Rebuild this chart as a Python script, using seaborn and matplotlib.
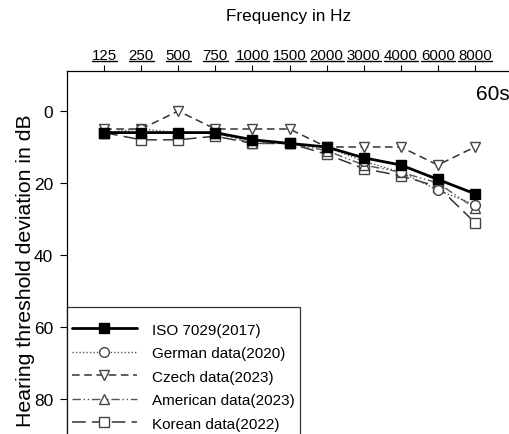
import numpy as np
import pandas as pd
import seaborn as sns
import matplotlib
matplotlib.use("Agg")
import matplotlib.pyplot as plt
from matplotlib.lines import Line2D

freqs = ["125", "250", "500", "750", "1000", "1500", "2000", "3000", "4000", "6000", "8000"]
iso_2017 = [6, 6, 6, 6, 8, 9, 10, 13, 15, 19, 23]
german_2020 = [6, 5, 6, 6, 8, 9, 10, 14, 17, 22, 26]
czech_2023 = [5, 5, 0, 5, 5, 5, 10, 10, 10, 15, 10]
american_2023 = [6, 6, 6, 6, 9, 9, 11, 15, 17, 20, 27]
korean_2022 = [6, 8, 8, 7, 9, 9, 12, 16, 18, 21, 31]
series_names = ["ISO 7029(2017)", "German data(2020)", "Czech data(2023)",
                "American data(2023)", "Korean data(2022)"]
y_ticks = [0, 20, 40, 60, 80]

sns.set_theme(style="ticks")
plt.rcParams["font.family"] = ["Liberation Sans", "DejaVu Sans"]
plt.rcParams["text.color"] = "black"

fig = plt.figure(figsize=(5.09, 4.35), dpi=100)
ax = fig.add_axes([67/509, -37/435, 445/509, 400/435])

styles = [
    dict(color="black", lw=2.0, marker="s", ms=7.5, mfc="black", mec="black", dashes=None),
    dict(color="#555555", lw=1.0, marker="o", ms=7, mfc="white", mec="#444444", dashes=(1, 1.5)),
    dict(color="#333333", lw=1.1, marker="v", ms=7, mfc="white", mec="#444444", dashes=(5, 3)),
    dict(color="#555555", lw=1.0, marker="^", ms=7, mfc="white", mec="#444444", dashes=(6, 2, 1, 2, 1, 2)),
    dict(color="#333333", lw=1.1, marker="s", ms=6.5, mfc="white", mec="#444444", dashes=(9, 4)),
]
data_lists = [iso_2017, german_2020, czech_2023, american_2023, korean_2022]
pos = np.arange(1, len(freqs) + 1)

for name, vals, st in reversed(list(zip(series_names, data_lists, styles))):
    df = pd.DataFrame({"pos": pos, "dB": vals})
    sns.lineplot(data=df, x="pos", y="dB", ax=ax, color=st["color"], lw=st["lw"],
                 marker=st["marker"], markersize=st["ms"], markerfacecolor=st["mfc"],
                 markeredgecolor=st["mec"], markeredgewidth=1.0,
                 zorder=3 if name.startswith("ISO") else 2)
    line = ax.get_lines()[-1]
    if st["dashes"] is not None:
        line.set_dashes(st["dashes"])

handles = []
for name, st in zip(series_names, styles):
    h = Line2D([], [], color=st["color"], lw=st["lw"], marker=st["marker"], markersize=st["ms"],
               markerfacecolor=st["mfc"], markeredgecolor=st["mec"], markeredgewidth=1.0)
    if st["dashes"] is not None:
        h.set_dashes(st["dashes"])
    handles.append(h)

ax.set_xlim(0, 12)
ax.set_ylim(100, -40/3.6)
ax.set_yticks(y_ticks)
ax.set_yticklabels([str(v) for v in y_ticks], fontsize=12.5)
ax.set_xticks(pos)
ax.set_xticklabels(freqs, fontsize=10.8)
ax.xaxis.tick_top()
ax.xaxis.set_label_position("top")
ax.tick_params(axis="x", length=4, width=0.8, pad=2.5, colors="black")
ax.tick_params(axis="y", length=5, width=0.8, pad=5, colors="black")
for s in ["left", "top"]:
    ax.spines[s].set_color("black")
    ax.spines[s].set_linewidth(0.9)
ax.spines["right"].set_visible(False)
ax.spines["bottom"].set_visible(False)
ax.set_xlabel("")
ax.set_ylabel("")
ax.grid(False)

fig.text(289/509, 1 - 17/435, "Frequency in Hz", ha="center", va="center", fontsize=12.3)
fig.text(26/509, 1 - 271/435, "Hearing threshold deviation in dB", ha="center", va="center",
         rotation=90, fontsize=15.3)
ax.text(476/509, 1 - 94/435, "60s", transform=fig.transFigure, ha="left", va="center", fontsize=15)

leg = ax.legend(handles, series_names, loc="upper left", bbox_to_anchor=(0, 0.41),
                borderaxespad=0, frameon=True, fontsize=11, handlelength=4.2,
                handletextpad=1.0, labelspacing=0.62, borderpad=0.35, fancybox=False,
                title=" ", title_fontsize=1)
leg.get_frame().set_edgecolor("black")
leg.get_frame().set_linewidth(0.9)

fig.canvas.draw()
renderer = fig.canvas.get_renderer()
W, H = fig.get_size_inches() * fig.dpi
for lab in ax.get_xticklabels():
    bb = lab.get_window_extent(renderer)
    y = bb.y0 + 1
    fig.add_artist(Line2D([bb.x0 / W, bb.x1 / W], [y / H, y / H], color="black", lw=1.0,
                          transform=fig.transFigure))

fig.savefig("out.png", dpi=100)
